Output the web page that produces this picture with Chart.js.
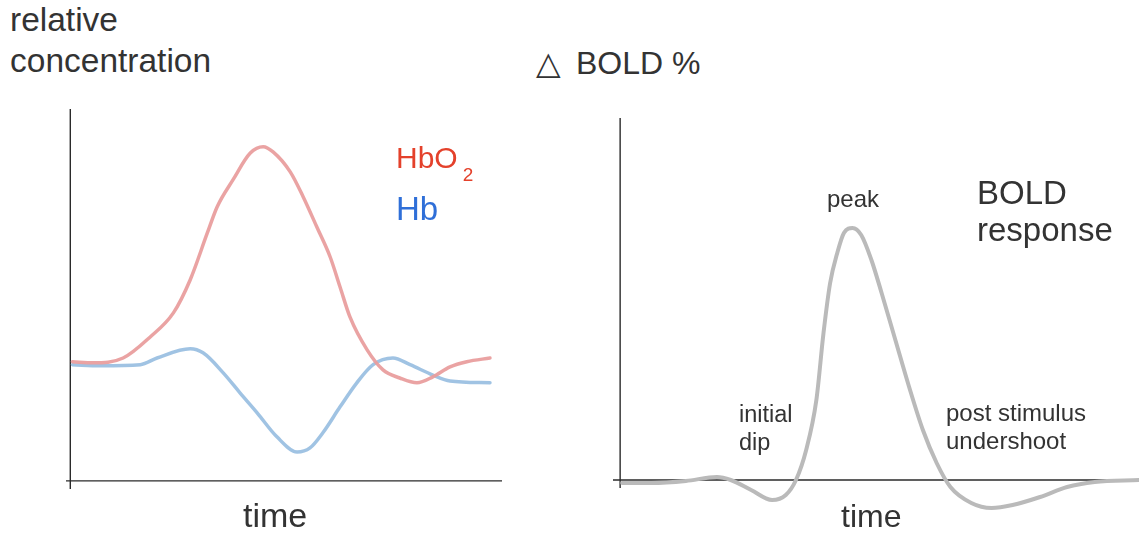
<!DOCTYPE html>
<html>
<head>
    <title>HbO2 / BOLD</title>
    <script src="https://cdn.jsdelivr.net/npm/chart.js@4.4.0/dist/chart.umd.min.js"></script>
    <style>
        body { margin: 0; background: #fff; font-family: "Liberation Sans", Arial, sans-serif; color: #333; }
        #wrap { position: relative; width: 1139px; height: 534px; overflow: hidden; }
        .txt { position: absolute; line-height: 1; white-space: nowrap; }
        .box { position: absolute; }
    </style>
</head>
<body>
<div id="wrap">
    <div class="box" style="left:40px; top:100px; width:480px; height:400px;"><canvas id="left"></canvas></div>
    <div class="box" style="left:600px; top:100px; width:539px; height:434px;"><canvas id="right"></canvas></div>

    <div class="txt" style="left:10px; top:-1px; font-size:33.5px; line-height:41px;">relative<br>concentration</div>
    <div class="txt" style="left:536px; top:47px; font-size:32px;"><span style="margin-right:6px;">△</span> BOLD %</div>
    <div class="txt" style="left:243px; top:498px; font-size:34px;">time</div>
    <div class="txt" style="left:841px; top:500px; font-size:32px;">time</div>

    <div class="txt" style="left:396px; top:143px; font-size:30px; color:#e4412b;">HbO<span style="font-size:19px; position:relative; top:13px; margin-left:5px;">2</span></div>
    <div class="txt" style="left:396px; top:192px; font-size:33px; color:#2f6fd8;">Hb</div>

    <div class="txt" style="left:827px; top:187px; font-size:24px;">peak</div>
    <div class="txt" style="left:977px; top:174px; font-size:33px; line-height:37px;">BOLD<br>response</div>
    <div class="txt" style="left:739px; top:400px; font-size:23.5px; line-height:28px;">initial<br>dip</div>
    <div class="txt" style="left:946px; top:399px; font-size:24px; line-height:28px;">post stimulus<br>undershoot</div>
</div>
<script>
    // left: relative concentration over time
    var hbo2Time = [0.5, 5.3, 12.3, 18.6, 24.0, 27.9, 31.9, 34.2, 37.9, 41.9, 44.9, 47.2, 51.2, 54.2, 57.4, 60.5, 62.8, 65.1, 69.1, 72.8, 76.7, 80.7, 84.4, 88.4, 92.3, 97.7];
    var hbo2Values = [32.2, 31.9, 33.2, 38.9, 45.4, 54.3, 67.0, 74.1, 81.4, 88.6, 90.3, 88.9, 83.5, 76.8, 68.6, 60.5, 52.4, 44.3, 35.4, 30.0, 27.8, 26.5, 28.1, 30.8, 32.2, 33.2];
    var hbTime = [0.5, 7.0, 16.3, 20.2, 27.9, 30.9, 35.6, 39.5, 43.5, 48.1, 52.8, 55.8, 58.8, 62.8, 66.7, 70.5, 75.1, 79.1, 84.4, 88.4, 97.7];
    var hbValues = [31.4, 31.1, 31.4, 33.2, 35.7, 34.6, 29.2, 23.8, 18.4, 11.9, 7.8, 8.9, 13.0, 20.0, 26.5, 31.4, 33.2, 31.4, 28.6, 27.0, 26.5];

    // right: BOLD response
    var boldTime = [0.4, 6.2, 12.9, 19.0, 21.7, 25.7, 29.8, 32.5, 34.5, 36.5, 38.5, 39.9, 41.2, 42.6, 43.9, 45.6, 47.3, 49.3, 51.3, 54.0, 56.7, 59.4, 62.1, 64.8, 68.9, 72.9, 77.0, 82.4, 87.7, 93.1, 101.8];
    var boldValues = [-1.2, -1.2, -0.4, 1.2, 0, -4.0, -8.0, -6.0, 0, 12.0, 32.0, 58.8, 78.8, 90.8, 98.8, 100.8, 98.0, 88.0, 74.8, 56.0, 37.2, 20.0, 6.8, -2.8, -9.2, -11.2, -10.0, -6.8, -2.8, -0.8, 0];

    function points(xs, ys) {
        var out = [];
        for (var i = 0; i < xs.length; i++) out.push({x: xs[i], y: ys[i]});
        return out;
    }

    // draws the two axis lines through x=0 and y=0
    var axesPlugin = {
        id: 'axes',
        beforeDatasetsDraw: function (chart) {
            var ctx = chart.ctx, a = chart.chartArea;
            var x0 = chart.scales.x.getPixelForValue(0);
            var y0 = chart.scales.y.getPixelForValue(0);
            ctx.save();
            ctx.strokeStyle = '#2b2b2b';
            ctx.lineWidth = 1.4;
            ctx.beginPath();
            ctx.moveTo(x0, a.top);
            ctx.lineTo(x0, a.bottom);
            ctx.moveTo(a.left, y0);
            ctx.lineTo(a.right, y0);
            ctx.stroke();
            ctx.restore();
        }
    };

    function makeChart(id, datasets, xr, yr, pad) {
        return new Chart(document.getElementById(id), {
            type: 'line',
            data: {datasets: datasets},
            options: {
                responsive: true,
                maintainAspectRatio: false,
                animation: false,
                layout: {padding: pad},
                plugins: {legend: {display: false}, tooltip: {enabled: false}},
                elements: {point: {radius: 0}, line: {cubicInterpolationMode: 'monotone', borderCapStyle: 'round', borderJoinStyle: 'round'}},
                scales: {
                    x: {type: 'linear', min: xr[0], max: xr[1], display: false},
                    y: {min: yr[0], max: yr[1], display: false}
                }
            },
            plugins: [axesPlugin]
        });
    }

    makeChart('left', [
        {label: 'HbO2', data: points(hbo2Time, hbo2Values), borderColor: 'rgba(233,158,158,0.95)', borderWidth: 3.5, clip: false},
        {label: 'Hb', data: points(hbTime, hbValues), borderColor: 'rgba(155,192,226,0.95)', borderWidth: 3.5, clip: false}
    ], [-1, 100.5], [-2.2, 100.5], {left: 26, top: 9, right: 18, bottom: 11});

    makeChart('right', [
        {label: 'BOLD', data: points(boldTime, boldValues), borderColor: '#bababa', borderWidth: 4, clip: false}
    ], [-1.4, 101.8], [-3.2, 144.8], {left: 13, top: 18, right: 0, bottom: 46});
</script>
</body>
</html>
